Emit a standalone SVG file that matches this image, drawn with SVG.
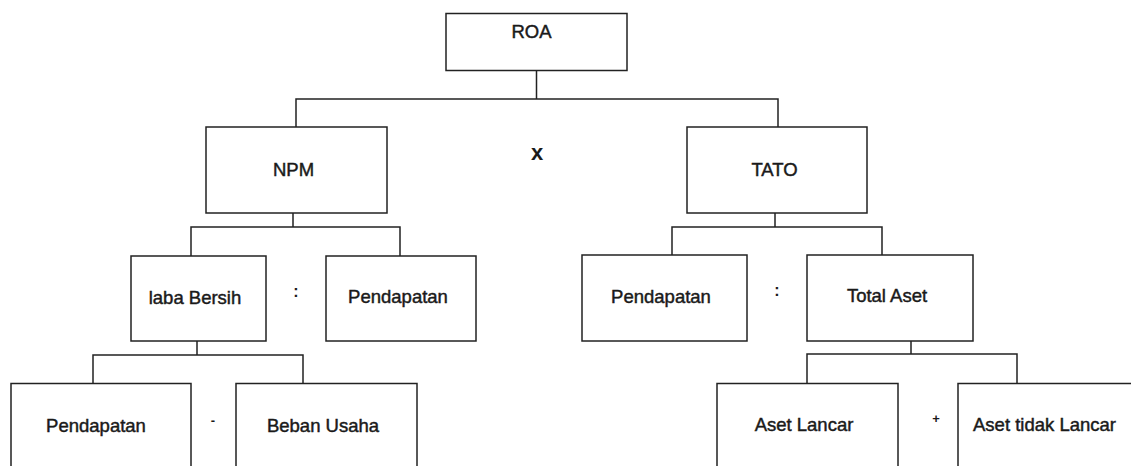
<svg xmlns="http://www.w3.org/2000/svg" width="1131" height="466" viewBox="0 0 1131 466">
  <style>
    .box { fill: #ffffff; stroke: #222222; stroke-width: 1.5; }
    .lbl { font-family: "Liberation Sans", Arial, sans-serif; font-size: 18.5px; fill: #1a1a1a; stroke: #1a1a1a; stroke-width: 0.45; text-anchor: middle; }
    .op { font-family: "Liberation Sans", Arial, sans-serif; font-weight: bold; fill: #1a1a1a; text-anchor: middle; }
    .conn { fill: none; stroke: #222222; stroke-width: 1.5; }
  </style>
  <rect width="1131" height="466" fill="#ffffff"/>
  <g id="connectors">
    <path class="conn" d="M536.5 70.5 V99 M296 127 V99 H778 V127"/>
    <path class="conn" d="M293 213 V227 M191 256 V227 H400 V256"/>
    <path class="conn" d="M775 213 V227 M672 255 V227 H882 V255"/>
    <path class="conn" d="M197 341 V355 M93 383.5 V355 H303 V383.5"/>
    <path class="conn" d="M911 341 V354 M807 383.5 V354 H1017 V383.5"/>
  </g>
  <g id="node-roa">
    <rect class="box" x="446" y="13.5" width="181" height="57"/>
    <text class="lbl" x="531.5" y="38">ROA</text>
  </g>
  <g id="node-npm">
    <rect class="box" x="206" y="127" width="181" height="86"/>
    <text class="lbl" x="293.5" y="176">NPM</text>
  </g>
  <g id="node-tato">
    <rect class="box" x="687" y="127" width="180" height="86"/>
    <text class="lbl" x="774.5" y="176">TATO</text>
  </g>
  <g id="node-laba-bersih">
    <rect class="box" x="131" y="256" width="135" height="85"/>
    <text class="lbl" x="195" y="304">laba Bersih</text>
  </g>
  <g id="node-pendapatan-npm">
    <rect class="box" x="326" y="256" width="150" height="85"/>
    <text class="lbl" x="398" y="303">Pendapatan</text>
  </g>
  <g id="node-pendapatan-tato">
    <rect class="box" x="582" y="255" width="165" height="86"/>
    <text class="lbl" x="661" y="303">Pendapatan</text>
  </g>
  <g id="node-total-aset">
    <rect class="box" x="807" y="255" width="166" height="86"/>
    <text class="lbl" x="887" y="302">Total Aset</text>
  </g>
  <g id="node-pendapatan-bottom">
    <rect class="box" x="11" y="383.5" width="180" height="90"/>
    <text class="lbl" x="96" y="432">Pendapatan</text>
  </g>
  <g id="node-beban-usaha">
    <rect class="box" x="236" y="383.5" width="181" height="90"/>
    <text class="lbl" x="323" y="432">Beban Usaha</text>
  </g>
  <g id="node-aset-lancar">
    <rect class="box" x="717" y="383.5" width="181" height="90"/>
    <text class="lbl" x="804" y="431">Aset Lancar</text>
  </g>
  <g id="node-aset-tidak-lancar">
    <rect class="box" x="958" y="383.5" width="185" height="90"/>
    <text class="lbl" x="1044.5" y="431">Aset tidak Lancar</text>
  </g>
  <g id="operators">
    <text class="op" x="537" y="160" font-size="22">x</text>
    <text class="op" x="296" y="297" font-size="16">:</text>
    <text class="op" x="777" y="296" font-size="16">:</text>
    <text class="op" x="213" y="425" font-size="13">-</text>
    <text class="op" x="936" y="423" font-size="13">+</text>
  </g>
</svg>
